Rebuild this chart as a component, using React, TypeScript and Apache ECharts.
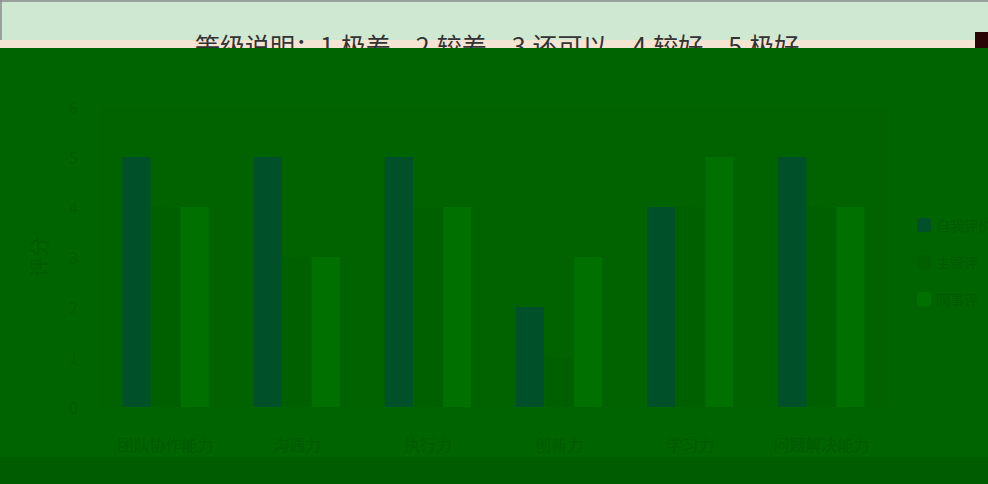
import React, { useEffect, useRef } from "react";
import * as echarts from "echarts";

const titleText = "等级说明：1.极差，2.较差，3.还可以，4.较好，5.极好";
const categories = ["团队协作能力", "沟通力", "执行力", "创新力", "学习力", "问题解决能力"];
const seriesNames = ["自我评价", "主管评", "同事评"];
const seriesA = [5, 5, 5, 2, 4, 5];
const seriesB = [4, 3, 4, 1, 4, 4];
const seriesC = [4, 3, 4, 3, 5, 4];
const yTicks = [0, 1, 2, 3, 4, 5, 6];
const yName = "评分";

export default function App() {
  const ref = useRef<HTMLDivElement>(null);
  useEffect(() => {
    if (!ref.current) return;
    const chart = echarts.init(ref.current, undefined, { renderer: "svg" });
    const font = "'Noto Sans CJK SC', sans-serif";
    const txt = "#005a00";
    const bg = "#006400";
    chart.setOption({
      animation: false,
      backgroundColor: bg,
      title: {
        text: titleText,
        left: 190,
        top: 27,
        textStyle: { fontSize: 25, fontWeight: "normal", color: "#333", fontFamily: font },
      },
      legend: {
        orient: "vertical",
        left: 912,
        top: 213,
        itemWidth: 14,
        itemHeight: 14,
        itemGap: 23,
        textStyle: { color: txt, fontSize: 14, fontFamily: font },
        data: seriesNames,
      },
      grid: {
        left: 100,
        right: 101,
        top: 107,
        bottom: 77,
        show: true,
        backgroundColor: "#006300",
        borderWidth: 0,
      },
      xAxis: {
        type: "category",
        data: categories,
        axisLine: { show: false },
        axisTick: { show: false },
        axisLabel: { color: txt, fontSize: 16, margin: 29, interval: 0, fontFamily: font },
      },
      yAxis: {
        type: "value",
        min: yTicks[0],
        max: yTicks[yTicks.length - 1],
        interval: 1,
        name: yName,
        nameLocation: "middle",
        nameGap: 52,
        nameTextStyle: { color: txt, fontSize: 20, fontFamily: font },
        axisLine: { show: false },
        axisTick: { show: false },
        splitLine: { show: false },
        axisLabel: { color: txt, fontSize: 16, margin: 22, fontFamily: font },
      },
      series: [
        { name: seriesNames[0], type: "bar", data: seriesA, barWidth: 28, barGap: "4%", itemStyle: { color: "#00502a" } },
        { name: seriesNames[1], type: "bar", data: seriesB, barWidth: 28, barGap: "4%", itemStyle: { color: "#006000" } },
        { name: seriesNames[2], type: "bar", data: seriesC, barWidth: 28, barGap: "4%", itemStyle: { color: "#007000" } },
      ],
      graphic: [
        { type: "rect", z: -10, shape: { x: 0, y: 0, width: 988, height: 40 }, style: { fill: "#cfe8d1" } },
        { type: "rect", z: -9, shape: { x: 0, y: 40, width: 975, height: 8 }, style: { fill: "#f6e4d2" } },
        { type: "rect", z: -9, shape: { x: 975, y: 32, width: 13, height: 16 }, style: { fill: "#2a0505" } },
        { type: "line", z: -8, shape: { x1: 0, y1: 1, x2: 988, y2: 1 }, style: { stroke: "#888", lineWidth: 1.5 } },
        { type: "line", z: -8, shape: { x1: 1, y1: 0, x2: 1, y2: 40 }, style: { stroke: "#888", lineWidth: 1.5 } },
        { type: "rect", z: 100, shape: { x: 0, y: 48, width: 988, height: 52 }, style: { fill: bg } },
        { type: "rect", z: -5, shape: { x: 0, y: 457, width: 988, height: 27 }, style: { fill: "#005c00" } },
      ],
    });
    return () => chart.dispose();
  }, []);
  return (
    <div
      ref={ref}
      style={{ position: "fixed", left: 0, top: 0, width: 988, height: 484 }}
    />
  );
}
